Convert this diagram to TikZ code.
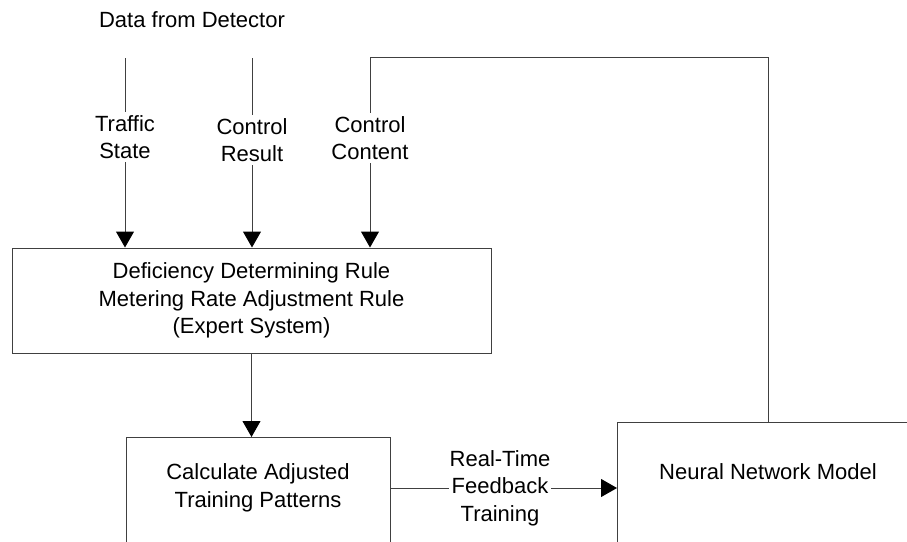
\documentclass[tikz,border=0pt]{standalone}
\usepackage{fontspec}
\setmainfont{Liberation Sans}
\usetikzlibrary{arrows.meta}
\begin{document}
\begin{tikzpicture}[x=1pt,y=-1pt,
  font=\fontsize{22}{27.5}\selectfont,
  box/.style={draw=black!75, line width=1pt, inner sep=0pt, align=center},
  lbl/.style={fill=white, inner xsep=1pt, inner ysep=3pt, align=center},
  conn/.style={draw=black!75, line width=1pt},
  arr/.style={conn, -{Triangle[length=16pt,width=18pt,color=black]}}]
\useasboundingbox (0,0) rectangle (907,541);
\clip (0,0) rectangle (907,541);
\node (title) at (192,20) {Data from Detector};
\node[box, minimum width=479pt, minimum height=105pt] (es) at (251.5,300.5)
  {Deficiency Determining Rule\\Metering Rate Adjustment Rule\\(Expert System)};
\node[box, minimum width=264pt, minimum height=140pt, anchor=north west] (cat) at (126,437) {};
\node[align=center] (catt) at (258,488) {Calculate Adjusted\\Training Patterns};
\node[box, minimum width=320pt, minimum height=160pt, anchor=north west] (nn) at (617,422) {};
\node (nnt) at (768,472) {Neural Network Model};
\coordinate (in1) at (125,58);
\coordinate (in2) at (252,58);
\coordinate (fb) at (370,57);
\draw[arr] (in1) -- (in1 |- es.north);
\draw[arr] (in2) -- (in2 |- es.north);
\draw[arr] (nn.north -| nnt) |- (fb) -- (fb |- es.north);
\draw[arr] (es.south) -- (es.south |- cat.north);
\draw[arr] (cat.east |- catt) -- (nn.west |- catt);
\node[lbl] (l1) at (125,137) {Traffic\\State};
\node[lbl] (l2) at (252,140) {Control\\Result};
\node[lbl] (l3) at (370,138) {Control\\Content};
\node[lbl] (rt) at (500,488) {Real-Time\\Feedback\\Training};
\end{tikzpicture}
\end{document}
